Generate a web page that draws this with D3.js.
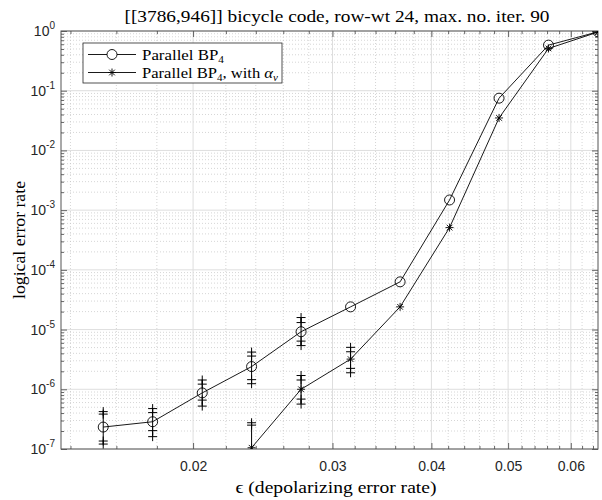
<!DOCTYPE html>
<html>
<head>
<meta charset="utf-8">
<script src="https://cdn.jsdelivr.net/npm/d3@7"></script>
<style>
  body { margin: 0; background: #fff; }
  svg { display: block; }
  .serif { font-family: "Liberation Serif", "Times New Roman", serif; fill: #000; }
  .tick text { font-family: "Liberation Sans", Arial, sans-serif; fill: #262626; }
</style>
</head>
<body>
<svg width="602" height="500"></svg>
<script>
// depolarizing rates, eps = 10^(k/16)
const epsilon = [0.01540, 0.01778, 0.02054, 0.02371, 0.02738, 0.03162, 0.03652, 0.04217, 0.04870, 0.05623, 0.06494];
// logical error rate, plain parallel BP4
const plainRate = [2.33e-7, 2.86e-7, 8.7e-7, 2.4e-6, 9.2e-6, 2.4e-5, 6.3e-5, 1.48e-3, 0.075, 0.58, 0.97];
// logical error rate, with alpha_v
const alphaRate = [null, null, null, 1.05e-7, 1.0e-6, 3.2e-6, 2.4e-5, 5.1e-4, 0.035, 0.51, 0.96];
// confidence bounds: [outer lo, inner lo, inner hi, outer hi]
const plainBounds = [
    [1.21e-7, 1.36e-7, 3.84e-7, 4.23e-7],
    [1.61e-7, 2.03e-7, 4.07e-7, 4.75e-7],
    [5.23e-7, 6.59e-7, 1.22e-6, 1.43e-6],
    [1.24e-6, 1.45e-6, 3.60e-6, 4.20e-6],
    [5.39e-6, 6.41e-6, 1.31e-5, 1.59e-5],
    null, null, null, null, null, null
];
const alphaBounds = [
    null, null, null,
    [4.0e-8, 4.5e-8, 2.51e-7, 2.75e-7],
    [5.65e-7, 6.85e-7, 1.43e-6, 1.70e-6],
    [1.89e-6, 2.24e-6, 4.25e-6, 5.04e-6],
    null, null, null, null, null
];
const xTicks = [0.02, 0.03, 0.04, 0.05, 0.06];
const xMinorTicks = [0.014, 0.016, 0.018, 0.022, 0.024, 0.026, 0.028, 0.032, 0.034, 0.036, 0.038,
    0.042, 0.044, 0.046, 0.048, 0.052, 0.054, 0.056, 0.058, 0.062, 0.064];
const yDecades = [-7, -6, -5, -4, -3, -2, -1, 0];
const titleText = "[[3786,946]] bicycle code, row-wt 24, max. no. iter. 90";

const svg = d3.select("svg");
const plotLeft = 61, plotRight = 598, plotTop = 31, plotBottom = 449;

const x = d3.scaleLog().domain([0.01362, 0.06494]).range([plotLeft, plotRight]);
const y = d3.scaleLog().domain([1e-7, 1]).range([plotBottom, plotTop]);

const yTicks = yDecades.map(k => Math.pow(10, k));
const yMinorTicks = [];
for(const k of yDecades.slice(0, -1)) {
    for(let m = 2; m <= 9; m++) yMinorTicks.push(m * Math.pow(10, k));
}

svg.append("defs").append("clipPath").attr("id", "plotClip")
    .append("rect")
    .attr("x", plotLeft).attr("y", plotTop)
    .attr("width", plotRight - plotLeft).attr("height", plotBottom - plotTop);

// grid
const grid = svg.append("g").attr("class", "grid");
grid.selectAll("line.xminor").data(xMinorTicks).enter().append("line")
    .attr("x1", d => x(d)).attr("x2", d => x(d))
    .attr("y1", plotTop).attr("y2", plotBottom)
    .attr("stroke", "#c4c4c4").attr("stroke-width", 0.7).attr("stroke-dasharray", "1,2");
grid.selectAll("line.yminor").data(yMinorTicks).enter().append("line")
    .attr("x1", plotLeft).attr("x2", plotRight)
    .attr("y1", d => y(d)).attr("y2", d => y(d))
    .attr("stroke", "#c4c4c4").attr("stroke-width", 0.7).attr("stroke-dasharray", "1,2");
grid.selectAll("line.xmajor").data(xTicks).enter().append("line")
    .attr("x1", d => x(d)).attr("x2", d => x(d))
    .attr("y1", plotTop).attr("y2", plotBottom)
    .attr("stroke", "#dedede").attr("stroke-width", 1);
grid.selectAll("line.ymajor").data(yTicks).enter().append("line")
    .attr("x1", plotLeft).attr("x2", plotRight)
    .attr("y1", d => y(d)).attr("y2", d => y(d))
    .attr("stroke", "#dedede").attr("stroke-width", 1);

// axes, ticks pointing inward
function styleAxis(g) {
    g.select(".domain").remove();
    g.selectAll(".tick line").attr("stroke", "#262626").attr("stroke-width", 0.7);
}
svg.append("g").attr("transform", `translate(0,${plotBottom})`)
    .call(d3.axisBottom(x).tickValues(xTicks).tickSize(-6).tickPadding(12)
        .tickFormat(d3.format(".2f")))
    .call(styleAxis)
    .selectAll("text").attr("font-size", 14);
svg.append("g").attr("transform", `translate(0,${plotBottom})`)
    .call(d3.axisBottom(x).tickValues(xMinorTicks).tickSize(-3).tickFormat(""))
    .call(styleAxis);
svg.append("g").attr("transform", `translate(0,${plotTop})`)
    .call(d3.axisTop(x).tickValues(xTicks).tickSize(-6).tickFormat(""))
    .call(styleAxis);
svg.append("g").attr("transform", `translate(0,${plotTop})`)
    .call(d3.axisTop(x).tickValues(xMinorTicks).tickSize(-3).tickFormat(""))
    .call(styleAxis);

const yAxisG = svg.append("g").attr("transform", `translate(${plotLeft},0)`)
    .call(d3.axisLeft(y).tickValues(yTicks).tickSize(-6).tickPadding(6))
    .call(styleAxis);
yAxisG.selectAll(".tick text")
    .attr("font-size", 14)
    .text(null)
    .each(function(d) {
        const t = d3.select(this);
        t.append("tspan").text("10");
        t.append("tspan").attr("dy", -7).attr("font-size", 10).text(Math.round(Math.log10(d)));
    });
svg.append("g").attr("transform", `translate(${plotLeft},0)`)
    .call(d3.axisLeft(y).tickValues(yMinorTicks).tickSize(-3).tickFormat(""))
    .call(styleAxis);
svg.append("g").attr("transform", `translate(${plotRight},0)`)
    .call(d3.axisRight(y).tickValues(yTicks).tickSize(-6).tickFormat(""))
    .call(styleAxis);
svg.append("g").attr("transform", `translate(${plotRight},0)`)
    .call(d3.axisRight(y).tickValues(yMinorTicks).tickSize(-3).tickFormat(""))
    .call(styleAxis);

svg.append("rect")
    .attr("x", plotLeft).attr("y", plotTop)
    .attr("width", plotRight - plotLeft).attr("height", plotBottom - plotTop)
    .attr("fill", "none").attr("stroke", "#555").attr("stroke-width", 1);

// marker paths
const asterisk = r => {
    const d = r * Math.SQRT1_2;
    return `M${-r},0H${r}M0,${-r}V${r}M${-d},${-d}L${d},${d}M${-d},${d}L${d},${-d}`;
};
const plus = r => `M${-r},0H${r}M0,${-r}V${r}`;

const plot = svg.append("g").attr("clip-path", "url(#plotClip)");
const line = d3.line()
    .defined(d => d[1] !== null)
    .x(d => x(d[0]))
    .y(d => y(d[1]));

const series = [
    { rates: plainRate, bounds: plainBounds, marker: "circle" },
    { rates: alphaRate, bounds: alphaBounds, marker: "star" }
];

for(const s of series) {
    const pts = epsilon.map((e, i) => [e, s.rates[i]]);
    const bars = epsilon.map((e, i) => ({ e: e, b: s.bounds[i] })).filter(d => d.b);

    plot.append("g").selectAll("line").data(bars).enter().append("line")
        .attr("x1", d => x(d.e)).attr("x2", d => x(d.e))
        .attr("y1", d => y(d.b[0])).attr("y2", d => y(d.b[3]))
        .attr("stroke", "#000").attr("stroke-width", 1);
    plot.append("g").selectAll("path")
        .data(bars.flatMap(d => d.b.map(v => [d.e, v]))).enter().append("path")
        .attr("transform", d => `translate(${x(d[0])},${y(d[1])})`)
        .attr("d", plus(4.5))
        .attr("stroke", "#000").attr("stroke-width", 1).attr("fill", "none");

    plot.append("path")
        .datum(pts)
        .attr("d", line)
        .attr("fill", "none").attr("stroke", "#000").attr("stroke-width", 0.9);

    const valid = pts.filter(d => d[1] !== null);
    if(s.marker === "circle") {
        plot.append("g").selectAll("circle").data(valid).enter().append("circle")
            .attr("cx", d => x(d[0])).attr("cy", d => y(d[1])).attr("r", 5)
            .attr("fill", "none").attr("stroke", "#000").attr("stroke-width", 0.9);
    } else {
        plot.append("g").selectAll("path").data(valid).enter().append("path")
            .attr("transform", d => `translate(${x(d[0])},${y(d[1])})`)
            .attr("d", asterisk(4))
            .attr("fill", "none").attr("stroke", "#000").attr("stroke-width", 0.9);
    }
}

// legend
const legend = svg.append("g");
legend.append("rect")
    .attr("x", 83).attr("y", 43).attr("width", 199).attr("height", 40)
    .attr("fill", "#fff").attr("stroke", "#262626").attr("stroke-width", 0.8);
const legendRows = [{ y: 54.5, marker: "circle", width: 82 }, { y: 72.5, marker: "star", width: 136 }];
legendRows.forEach((row, i) => {
    legend.append("line")
        .attr("x1", 88).attr("x2", 136).attr("y1", row.y).attr("y2", row.y)
        .attr("stroke", "#000").attr("stroke-width", 0.9);
    if(row.marker === "circle") {
        legend.append("circle").attr("cx", 112).attr("cy", row.y).attr("r", 5)
            .attr("fill", "#fff").attr("stroke", "#000").attr("stroke-width", 0.9);
    } else {
        legend.append("path").attr("transform", `translate(112,${row.y})`)
            .attr("d", asterisk(4)).attr("fill", "none").attr("stroke", "#000").attr("stroke-width", 0.9);
    }
    const t = legend.append("text").attr("class", "serif")
        .attr("x", 142).attr("y", row.y + 5).attr("font-size", 15)
        .attr("textLength", row.width).attr("lengthAdjust", "spacingAndGlyphs");
    t.append("tspan").text("Parallel BP");
    t.append("tspan").attr("dy", 3).attr("font-size", 10).text("4");
    if(i === 1) {
        t.append("tspan").attr("dy", -3).text(", with ");
        t.append("tspan").attr("font-style", "italic").text("α");
        t.append("tspan").attr("dy", 3).attr("font-size", 10).attr("font-style", "italic").text("v");
    }
});

// title and labels
svg.append("text").attr("class", "serif")
    .attr("x", 337).attr("y", 22).attr("text-anchor", "middle")
    .attr("font-size", 17).attr("textLength", 425).attr("lengthAdjust", "spacingAndGlyphs")
    .text(titleText);
svg.append("text").attr("class", "serif")
    .attr("x", 336).attr("y", 493).attr("text-anchor", "middle")
    .attr("font-size", 17).attr("textLength", 201).attr("lengthAdjust", "spacingAndGlyphs")
    .text("ϵ (depolarizing error rate)");
svg.append("text").attr("class", "serif")
    .attr("transform", "translate(25,240) rotate(-90)")
    .attr("text-anchor", "middle")
    .attr("font-size", 17).attr("textLength", 118).attr("lengthAdjust", "spacingAndGlyphs")
    .text("logical error rate");
</script>
</body>
</html>
